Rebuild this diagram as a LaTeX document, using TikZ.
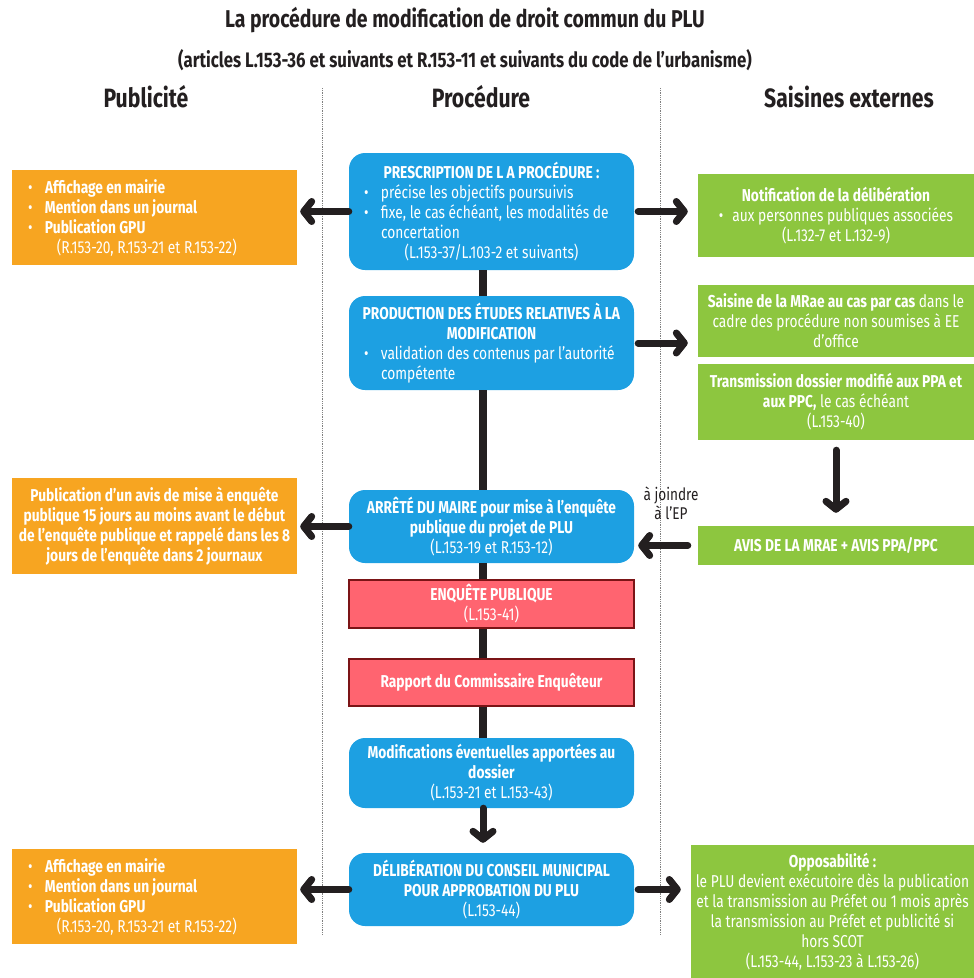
\documentclass[tikz,border=0pt]{standalone}
\usepackage{fontspec}
\setmainfont{Fira Sans}[FakeStretch=0.8]
\usepackage{xcolor}
\usetikzlibrary{arrows.meta}

\definecolor{procblue}{HTML}{1DA0E2}
\definecolor{puborange}{HTML}{F7A521}
\definecolor{extgreen}{HTML}{8DC63F}
\definecolor{eprred}{HTML}{FF6470}
\definecolor{eprborder}{HTML}{7B1416}
\definecolor{ink}{HTML}{231F20}

\newcommand{\bitem}[2]{\makebox[#1][l]{\makebox[17pt][l]{\textbullet}#2}}
\newcommand{\bcont}[2]{\makebox[#1][l]{\hspace{17pt}#2}}

\tikzset{
  txt/.style={font=\fontsize{17.2}{20}\selectfont, text=white, align=center, inner sep=0pt},
  procbox/.style={txt, fill=procblue, rounded corners=16pt, minimum width=285pt},
  pubbox/.style={txt, fill=puborange, minimum width=285pt},
  extbox/.style={txt, fill=extgreen, minimum width=276pt},
  eprbox/.style={txt, fill=eprred, draw=eprborder, line width=1.5pt, minimum width=285pt},
  trunk/.style={draw=ink, line width=8pt},
  flow/.style={draw=ink, line width=7pt, line cap=round, -{Straight Barb[round,length=8pt,width=20pt]}},
  sep/.style={draw=gray, densely dotted, line width=0.8pt},
  head/.style={text=ink, font=\bfseries\fontsize{26.5}{30}\selectfont}
}

\begin{document}
\begin{tikzpicture}[x=1pt,y=-1pt]
        \useasboundingbox (0,0) rectangle (974,978);
        \node[text=ink, font=\bfseries\fontsize{24.3}{28}\selectfont] (title) at (465,20)
            {La procédure de modification de droit commun du PLU};
        \node[text=ink, font=\bfseries\fontsize{21}{24}\selectfont] (subtitle) at (465,60)
            {(articles L.153-36 et suivants et R.153-11 et suivants du code de l’urbanisme)};
        \node[head] (hpub)  at (146,97) {Publicité};
        \node[head] (hproc) at (481,97) {Procédure};
        \node[head] (hext)  at (849,97) {Saisines externes};

        \draw[sep] (322,88) -- (322,935);
        \draw[sep] (660,88) -- (660,935);
        \coordinate (tx) at (483,0);

        % procedure
        \node[procbox, minimum height=117pt] (b1) at (491.5,211.5) {%
            \textbf{PRESCRIPTION DE L A PROCÉDURE :}\\
            \bitem{255pt}{précise les objectifs poursuivis}\\
            \bitem{255pt}{fixe, le cas échéant, les modalités de}\\
            \bcont{255pt}{concertation}\\
            (L.153-37/L.103-2 et suivants)};
        \node[procbox, minimum height=94pt] (b2) at (491.5,343) {%
            \textbf{PRODUCTION DES ÉTUDES RELATIVES À LA}\\
            \textbf{MODIFICATION}\\
            \bitem{255pt}{validation des contenus par l’autorité}\\
            \bcont{255pt}{compétente}};
        \node[procbox, minimum height=73pt] (b3) at (491.5,526.5) {%
            \textbf{ARRÊTÉ DU MAIRE pour mise à l’enquête}\\
            \textbf{publique du projet de PLU}\\
            (L.153-19 et R.153-12)};
        \node[eprbox, minimum height=48pt] (r1) at (491.5,604) {%
            \textbf{ENQUÊTE PUBLIQUE}\\
            (L.153-41)};
        \node[eprbox, minimum height=47pt] (r2) at (491.5,682.5) {%
            \textbf{Rapport du Commissaire Enquêteur}};
        \node[procbox, minimum height=70pt] (b4) at (491.5,773) {%
            \textbf{Modifications éventuelles apportées au}\\
            \textbf{dossier}\\
            (L.153-21 et L.153-43)};
        \node[procbox, minimum height=73pt] (b5) at (491.5,889.5) {%
            \textbf{DÉLIBÉRATION DU CONSEIL MUNICIPAL}\\
            \textbf{POUR APPROBATION DU PLU}\\
            (L.153-44)};

        % publicite
        \node[pubbox, minimum height=95pt] (l1) at (154.5,217.5) {%
            \bitem{253pt}{\textbf{Affichage en mairie}}\\
            \bitem{253pt}{\textbf{Mention dans un journal}}\\
            \bitem{253pt}{\textbf{Publication GPU}}\\
            \bcont{253pt}{\hspace{12pt}(R.153-20, R.153-21 et R.153-22)}};
        \node[pubbox, minimum height=96pt] (l2) at (154.5,526) {%
            \textbf{Publication d’un avis de mise à enquête}\\
            \textbf{publique 15 jours au moins avant le début}\\
            \textbf{de l’enquête publique et rappelé dans les 8}\\
            \textbf{jours de l’enquête dans 2 journaux}};
        \node[pubbox, minimum height=95pt] (l3) at (154.5,896.5) {%
            \bitem{253pt}{\textbf{Affichage en mairie}}\\
            \bitem{253pt}{\textbf{Mention dans un journal}}\\
            \bitem{253pt}{\textbf{Publication GPU}}\\
            \bcont{253pt}{\hspace{12pt}(R.153-20, R.153-21 et R.153-22)}};

        % saisines
        \node[extbox, minimum height=83pt] (g1) at (836,215.5) {%
            \textbf{Notification de la délibération}\\
            \textbullet\hspace{9pt}aux personnes publiques associées\\
            (L.132-7 et L.132-9)};
        \node[extbox, minimum height=72pt] (g2) at (836,321) {%
            \textbf{Saisine de la MRae au cas par cas} dans le\\
            cadre des procédure non soumises à EE\\
            d’office};
        \node[extbox, minimum height=76pt] (g3) at (836,402) {%
            \textbf{Transmission dossier modifié aux PPA et}\\
            \textbf{aux PPC,} le cas échéant\\
            (L.153-40)};
        \node[extbox, minimum height=39pt] (g4) at (836,545.5) {%
            \textbf{AVIS DE LA MRAE + AVIS PPA/PPC}};
        \node[extbox, minimum width=283pt, minimum height=133pt] (g5) at (832.5,911.5) {%
            \textbf{Opposabilité :}\\
            le PLU devient exécutoire dès la publication\\
            et la transmission au Préfet ou 1 mois après\\
            la transmission au Préfet et publicité si\\
            hors SCOT\\
            (L.153-44, L.153-23 à L.153-26)};
        \node[text=ink, font=\fontsize{17}{19}\selectfont, align=center, inner sep=0pt] (ep) at (671,503)
            {à joindre\\à l’EP};

        % connecteurs
        \foreach \a/\b in {b1/b2,b2/b3,b3/r1,r1/r2,r2/b4}
            \draw[trunk] (\a.south -| tx) -- (\b.north -| tx);
        \draw[flow, shorten >=10pt] (b4.south -| tx) -- (b5.north -| tx);
        \draw[flow, shorten >=3pt] (b1.west) -- (b1.west -| l1.east);
        \draw[flow, shorten <=4pt, shorten >=10pt] (b1.east) -- (b1.east -| g1.west);
        \draw[flow, shorten <=4pt, shorten >=10pt] (b2.east) -- (b2.east -| g2.west);
        \draw[flow, shorten <=10pt, shorten >=13pt] (g3.south) -- (g4.north);
        \draw[flow, shorten <=10pt, shorten >=4pt] (g4.west) -- (g4.west -| b3.east);
        \draw[flow, shorten >=3pt] (b3.west) -- (b3.west -| l2.east);
        \draw[flow, shorten >=3pt] (b5.west) -- (b5.west -| l3.east);
        \draw[flow, shorten <=4pt, shorten >=10pt] (b5.east) -- (b5.east -| g5.west);
\end{tikzpicture}
\end{document}
